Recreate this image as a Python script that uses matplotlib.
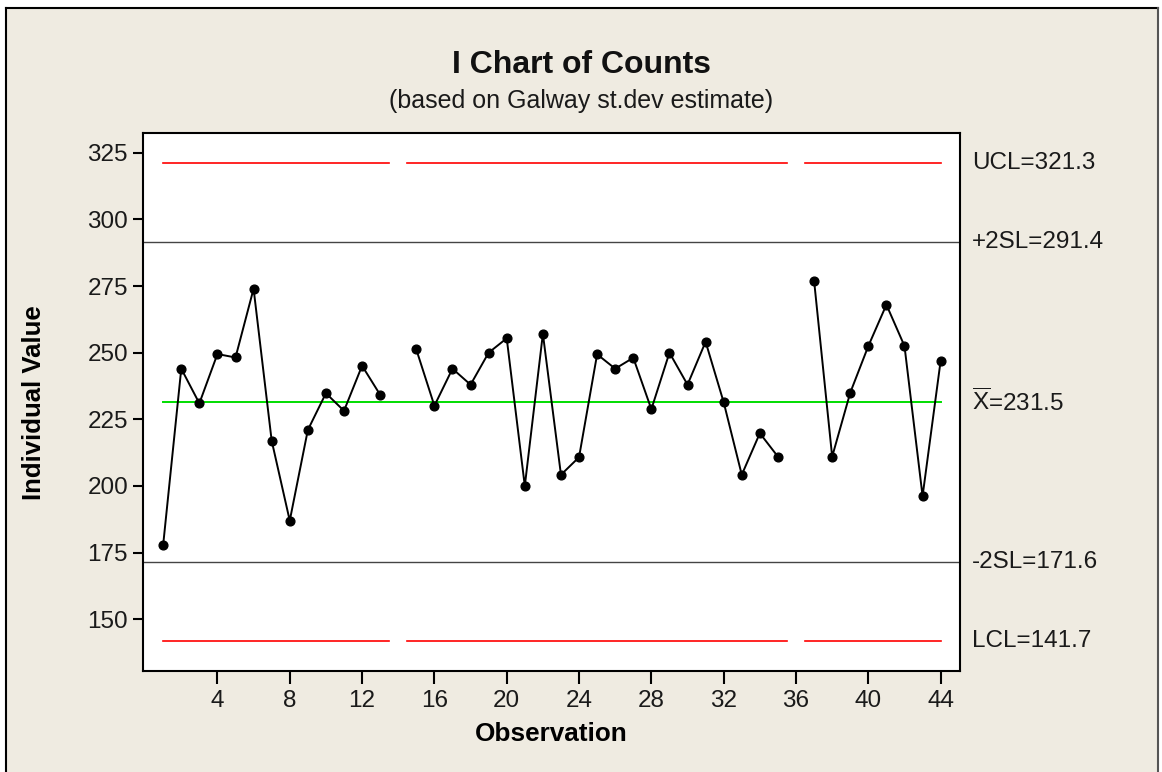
import numpy as np
import matplotlib
matplotlib.use("Agg")
import matplotlib.pyplot as plt
import matplotlib.transforms as mtransforms
from matplotlib.patches import Rectangle
from matplotlib.lines import Line2D

plt.rcParams['font.family'] = ['Liberation Sans', 'DejaVu Sans']
plt.rcParams['mathtext.fontset'] = 'custom'
plt.rcParams['mathtext.rm'] = 'Liberation Sans'

# observations 1..44, nan = not plotted
observation = np.arange(1, 45)
counts = [178, 244, 231, 249.5, 248.2, 274, 217, 187, 221, 234.8,
          228.2, 245.1, 234.2, np.nan, 251.2, 230.1, 244, 238, 250, 255.4,
          200, 257.1, 204.2, 210.8, 249.4, 244, 248.1, 228.8, 250, 238,
          254.1, 231.4, 204.2, 219.8, 211, np.nan, 277, 211, 235, 252.5,
          268, 252.5, 196.2, 247]
ucl = 321.3
plus2sl = 291.4
xbar = 231.5
minus2sl = 171.6
lcl = 141.7
limit_labels = ['UCL=321.3', '+2SL=291.4', r'$\overline{\mathrm{X}}$=231.5',
                '-2SL=171.6', 'LCL=141.7']
xtick_vals = [4, 8, 12, 16, 20, 24, 28, 32, 36, 40, 44]
ytick_vals = [150, 175, 200, 225, 250, 275, 300, 325]

beige = '#efebe1'
W, H = 1162, 772

fig = plt.figure(figsize=(W / 100, H / 100), dpi=100, facecolor='white')

# beige panel with black border (top, left, right)
fig.patches.append(Rectangle((6 / W, 0), (1158 - 6) / W, 1 - 8 / H,
                             transform=fig.transFigure, facecolor=beige,
                             edgecolor='none', zorder=-10))
fig.lines.append(Line2D([6 / W, 6 / W], [0, 1 - 8 / H], transform=fig.transFigure,
                        color='black', lw=1.5, zorder=-5))
fig.lines.append(Line2D([6 / W, 1158 / W], [1 - 8 / H, 1 - 8 / H],
                        transform=fig.transFigure, color='black', lw=1.5, zorder=-5))
fig.lines.append(Line2D([1158 / W, 1158 / W], [0, 1 - 8 / H],
                        transform=fig.transFigure, color='#555555', lw=1.5, zorder=-5))

ax = fig.add_axes([143.3 / W, 1 - 671 / H, (960 - 143.3) / W, (671 - 133.3) / H])
ax.set_facecolor('white')

counts = np.array(counts, dtype=float)
n = len(observation)

# runs of present points -> limit segments
present = ~np.isnan(counts)
runs = []
i = 0
while i < n:
    if present[i]:
        j = i
        while j + 1 < n and present[j + 1]:
            j += 1
        runs.append((observation[i], observation[j]))
        i = j + 1
    else:
        i += 1

for s, e in runs:
    x0 = max(s - 0.5, observation[0])
    x1 = min(e + 0.5, observation[-1])
    ax.plot([x0, x1], [ucl, ucl], color='red', lw=1.2, zorder=2)
    ax.plot([x0, x1], [lcl, lcl], color='red', lw=1.2, zorder=2)

ax.plot([observation[0], observation[-1]], [xbar, xbar], color='#00dd00',
        lw=1.4, zorder=2)
ax.axhline(plus2sl, color='#444444', lw=1.0, zorder=2)
ax.axhline(minus2sl, color='#444444', lw=1.0, zorder=2)

ax.plot(observation, counts, color='black', lw=1.4, marker='o', ms=6.3,
        zorder=3)

ax.set_xlim(-0.1, 45.07)
ax.set_ylim(130.6, 332.3)
ax.set_xticks(xtick_vals)
ax.set_yticks(ytick_vals)
ax.tick_params(axis='both', labelsize=17.5, width=1.5, color='black',
               labelcolor='#1a1a1a')
ax.tick_params(axis='x', length=9, pad=5)
ax.tick_params(axis='y', length=7, pad=4)
for sp in ax.spines.values():
    sp.set_linewidth(1.5)
    sp.set_color('black')

trans = mtransforms.blended_transform_factory(ax.transAxes, ax.transData)
for val, lab in zip([ucl, plus2sl, xbar, minus2sl, lcl], limit_labels):
    ax.text(1.0147, val, lab, transform=trans, va='center', ha='left',
            fontsize=17.5, color='#1a1a1a')

ax.set_xlabel('Observation', fontsize=18.8, fontweight='bold', labelpad=7)
ax.set_ylabel('Individual Value', fontsize=18.5, fontweight='bold', labelpad=30)

fig.text(0.5, 1 - 65 / H, 'I Chart of Counts', ha='center', va='center',
         fontsize=23, fontweight='bold', color='#111111')
fig.text(0.5, 1 - 101 / H, '(based on Galway st.dev estimate)', ha='center',
         va='center', fontsize=18, color='#1a1a1a')

fig.savefig('out.png', dpi=100, facecolor='white')
